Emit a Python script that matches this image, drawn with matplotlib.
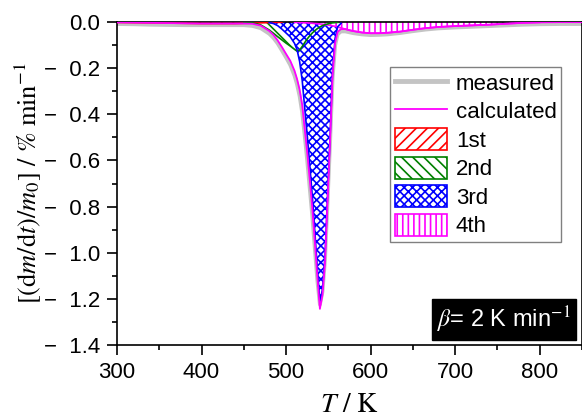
import matplotlib
matplotlib.use("Agg")
import matplotlib.pyplot as plt
from matplotlib.patches import Patch
from matplotlib.lines import Line2D
from matplotlib.ticker import MultipleLocator
import numpy as np

# temperature grid (K), denser around the main peak
T = [300, 320, 340, 360, 380, 400, 420, 440, 450, 460, 470, 480, 485, 490, 495, 500, 505, 510,
     513, 516, 519, 522, 525, 528, 531, 534, 537, 540, 543, 546, 549, 552, 555, 558, 561,
     565, 570, 575, 580, 590, 600, 610, 620, 635, 650, 665, 680, 700, 720, 740, 760, 780, 800, 825, 850]

# deconvoluted steps (% / min)
step1 = [-0.001, -0.002, -0.003, -0.004, -0.005, -0.006, -0.006, -0.006, -0.005, -0.004, -0.003, -0.002,
         -0.001, -0.001, -0.0005, 0] + [0] * 39
step2 = [0] * 8 + [-0.001, -0.003, -0.012, -0.034, -0.048, -0.063, -0.077, -0.091, -0.104, -0.118, -0.126,
         -0.121, -0.106, -0.089, -0.073, -0.059, -0.047, -0.037, -0.028, -0.021, -0.015, -0.011, -0.008,
         -0.005, -0.003, -0.002, -0.001, 0] + [0] * 19
step3 = [0] * 11 + [-0.002, -0.006, -0.015, -0.03, -0.047, -0.064, -0.092, -0.12, -0.17, -0.25, -0.37,
         -0.49, -0.62, -0.755, -0.91, -1.07, -1.215, -1.16, -1.02, -0.76, -0.50, -0.21, -0.07, -0.02,
         -0.005, 0] + [0] * 18
step4 = [0] * 16 + [0, -0.001, -0.001, -0.002, -0.002, -0.003, -0.003, -0.004, -0.005, -0.006, -0.007,
         -0.008, -0.009, -0.011, -0.012, -0.014, -0.016, -0.018, -0.021, -0.025, -0.03, -0.035, -0.039,
         -0.045, -0.048, -0.048, -0.046, -0.041, -0.033, -0.026, -0.021, -0.017, -0.014, -0.011, -0.007,
         -0.003, -0.001, 0, 0]

measured = [-0.008, -0.009, -0.011, -0.012, -0.013, -0.013, -0.013, -0.013, -0.013, -0.016, -0.026, -0.05,
            -0.068, -0.092, -0.122, -0.153, -0.186, -0.232, -0.27, -0.32, -0.39, -0.49, -0.60, -0.72, -0.84,
            -0.98, -1.12, -1.225, -1.17, -1.03, -0.78, -0.52, -0.24, -0.10, -0.052, -0.04, -0.04, -0.044,
            -0.048, -0.053, -0.056, -0.055, -0.053, -0.047, -0.039, -0.032, -0.027, -0.023, -0.02, -0.017,
            -0.014, -0.011, -0.009, -0.008, -0.008]

labels = ["1st", "2nd", "3rd", "4th"]
colors = ["red", "green", "blue", "magenta"]
hatches = ["///", "\\\\\\", "xxxx", "|||"]

plt.rcParams["font.family"] = ["Liberation Sans", "DejaVu Sans"]
plt.rcParams["mathtext.fontset"] = "stix"
plt.rcParams["hatch.linewidth"] = 1.2

T = np.array(T)
steps = [np.array(s) for s in (step1, step2, step3, step4)]
calculated = steps[0] + steps[1] + steps[2] + steps[3]

fig = plt.figure(figsize=(5.82, 4.18), dpi=100)
ax = fig.add_axes([0.201, 0.175, 0.799, 0.772])

ax.plot(T, measured, color="#c4c4c4", lw=2.8, zorder=1)

# fills: 4th at the back, 3rd on top
for i in [3, 0, 1, 2]:
    ax.fill_between(T, 0, steps[i], facecolor="white", edgecolor=colors[i], hatch=hatches[i],
                    lw=0, zorder=2 + i * 0.1)
# outline of each step only where it is non-zero
for i in [3, 0, 1, 2]:
    ax.plot(T, np.ma.masked_where(steps[i] == 0, steps[i]), color=colors[i], lw=1.2, zorder=3)
ax.plot(T, calculated, color="magenta", lw=1.3, zorder=4)

ax.set_xlim(300, 850)
ax.set_ylim(-1.4, 0.0)
ax.xaxis.set_major_locator(MultipleLocator(100))
ax.xaxis.set_minor_locator(MultipleLocator(50))
ax.yaxis.set_major_locator(MultipleLocator(0.2))
ax.yaxis.set_minor_locator(MultipleLocator(0.1))
ax.yaxis.set_major_formatter(plt.FuncFormatter(
    lambda v, p: f"{v:.1f}" if v > -0.05 else "\u2212  " + f"{-v:.1f}"))
ax.tick_params(which="both", direction="out", labelsize=16, width=1.2, pad=5)
ax.tick_params(which="major", length=7)
ax.tick_params(which="minor", length=3.5)
for s in ax.spines.values():
    s.set_linewidth(1.2)

ax.set_xlabel(r"$T\ /\ \mathrm{K}$", fontsize=20, labelpad=7)
ax.set_ylabel(r"$[(\mathrm{d}m/\mathrm{d}t)/m_0]\ /\ \%\ \mathrm{min}^{-1}$", fontsize=19, labelpad=1)

handles = [Line2D([], [], color="#c4c4c4", lw=3.5), Line2D([], [], color="magenta", lw=1.3)]
for c, h in zip(colors, hatches):
    handles.append(Patch(facecolor="white", edgecolor=c, hatch=h, lw=1.2))
leg = ax.legend(handles, ["measured", "calculated"] + labels, loc="upper right",
                bbox_to_anchor=(0.955, 0.861), fontsize=16, frameon=True, fancybox=False,
                edgecolor="#808080", framealpha=1, borderpad=0.2, handlelength=2.35,
                handleheight=1.15, handletextpad=0.4, labelspacing=0.22, borderaxespad=0)
leg.get_frame().set_linewidth(1.0)

ax.text(0.975, 0.03, r"$\beta$= 2 K min$^{-1}$", transform=ax.transAxes, ha="right", va="bottom",
        fontsize=17, color="white",
        bbox=dict(boxstyle="square,pad=0.22", facecolor="black", edgecolor="black"))

fig.savefig("out.png", dpi=100)
